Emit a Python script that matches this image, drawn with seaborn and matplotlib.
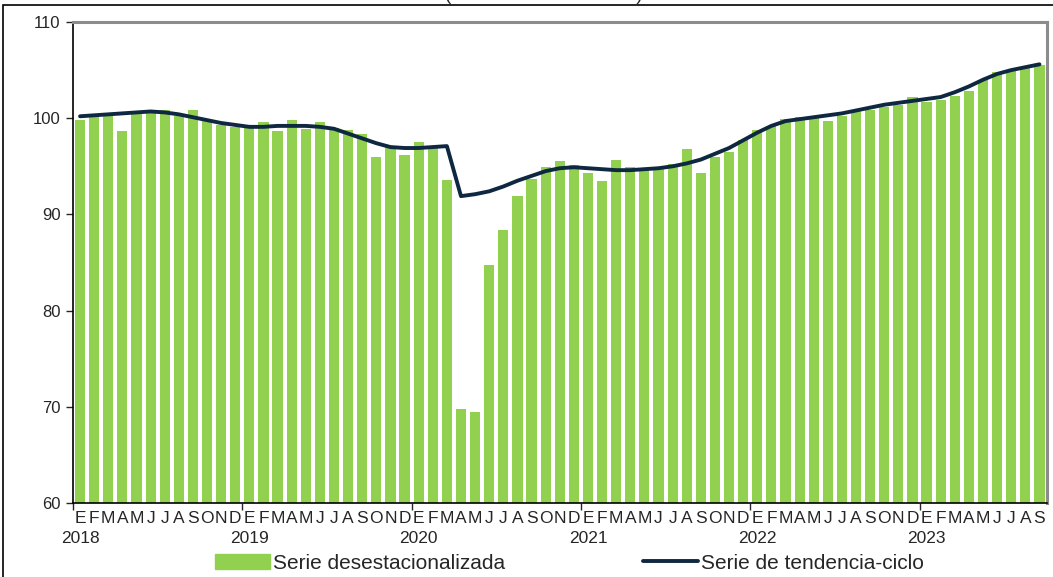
import matplotlib
matplotlib.use("Agg")
import matplotlib.pyplot as plt
import matplotlib.patches as mpatches
from matplotlib.lines import Line2D
import matplotlib.transforms as mtransforms
import numpy as np
import pandas as pd
import seaborn as sns

# datos (índice, 2018=100)
anios = ['2018', '2019', '2020', '2021', '2022', '2023']
letras_mes = ['E', 'F', 'M', 'A', 'M', 'J', 'J', 'A', 'S', 'O', 'N', 'D']

serie_desest = [
    99.8, 100.2, 100.4, 98.7, 100.7, 100.7, 100.9, 100.2, 100.9, 99.7, 99.3, 99.1,   # 2018
    99.1, 99.6, 98.7, 99.8, 98.9, 99.6, 99.0, 98.8, 98.4, 96.0, 97.0, 96.2,          # 2019
    97.5, 97.0, 93.6, 69.8, 69.5, 84.7, 88.4, 91.9, 93.7, 94.9, 95.6, 95.1,          # 2020
    94.3, 93.5, 95.7, 94.9, 94.7, 94.9, 95.2, 96.8, 94.3, 96.0, 96.5, 97.7,          # 2021
    98.8, 99.2, 99.9, 100.1, 100.0, 99.7, 100.2, 100.9, 100.85, 101.2, 101.4, 102.2, # 2022
    101.7, 101.9, 102.3, 102.8, 104.0, 104.8, 105.0, 105.2, 105.5,                   # 2023
]

serie_tendencia = [
    100.2, 100.3, 100.4, 100.5, 100.6, 100.7, 100.6, 100.4, 100.1, 99.8, 99.5, 99.3,
    99.1, 99.1, 99.2, 99.2, 99.2, 99.1, 98.9, 98.4, 97.9, 97.4, 97.0, 96.9,
    96.9, 97.0, 97.1, 91.9, 92.1, 92.4, 92.9, 93.5, 94.0, 94.5, 94.8, 94.9,
    94.8, 94.7, 94.6, 94.6, 94.7, 94.8, 95.0, 95.3, 95.7, 96.3, 96.9, 97.7,
    98.5, 99.2, 99.7, 99.9, 100.1, 100.3, 100.5, 100.8, 101.1, 101.4, 101.6, 101.8,
    102.0, 102.2, 102.7, 103.3, 104.0, 104.6, 105.0, 105.3, 105.6,
]

n = len(serie_desest)
df = pd.DataFrame({'pos': np.arange(n), 'desest': serie_desest, 'tend': serie_tendencia})
df['mes'] = [letras_mes[i % 12] for i in range(n)]

verde = '#92D050'
azul = '#0E2841'

sns.set_style('white')
plt.rcParams['font.family'] = ['Liberation Sans', 'DejaVu Sans']

fig = plt.figure(figsize=(10.53, 5.77), dpi=100)
ax = fig.add_axes([73 / 1053, 1 - 503 / 577, (1046.5 - 73) / 1053, (503 - 22) / 577])

sns.barplot(data=df, x='pos', y='desest', native_scale=True, color=verde,
            saturation=1, width=0.72, edgecolor='none', ax=ax)
sns.lineplot(data=df, x='pos', y='tend', color=azul, linewidth=2.8, ax=ax)

ax.set_xlim(-0.5, n - 0.5)
ax.set_ylim(60, 110)
ax.set_yticks([60, 70, 80, 90, 100, 110])
ax.set_xlabel('')
ax.set_ylabel('')

# ejes
for s in ['left', 'bottom']:
    ax.spines[s].set_color('black')
    ax.spines[s].set_linewidth(1.2)
for s in ['top', 'right']:
    ax.spines[s].set_color('#8c8c8c')
    ax.spines[s].set_linewidth(2.2)

ax.tick_params(axis='y', left=True, length=5, width=1, labelsize=12, pad=4)

# marcas de año (mayores) y letras de mes (menores)
ax.set_xticks(np.arange(-0.5, n, 12))
ax.set_xticklabels([])
ax.tick_params(axis='x', which='major', bottom=True, length=5, width=1)
ax.set_xticks(df['pos'], minor=True)
ax.set_xticklabels(df['mes'], minor=True)
ax.tick_params(axis='x', which='minor', bottom=True, length=0, labelsize=12.5, pad=6)

trans = mtransforms.blended_transform_factory(ax.transData, ax.transAxes)
for k, a in enumerate(anios):
    ax.text(k * 12, -0.074, a, transform=trans, ha='center', va='center', fontsize=12.5)

# leyenda
h1 = mpatches.Patch(color=verde, label='Serie desestacionalizada')
h2 = Line2D([0], [0], color=azul, linewidth=2.8, label='Serie de tendencia-ciclo')
fig.legend(handles=[h1, h2], loc='center', bbox_to_anchor=(0.5408, 0.024), ncol=2,
           frameon=False, fontsize=15, handlelength=2.65, handletextpad=0.15,
           columnspacing=6.6, borderaxespad=0)

# título recortado en el borde superior (como en la imagen original) y marco
fig.text(0.5166, 1 + 0.5 / 577, '(Índice base 2018=100)', ha='center', va='baseline', fontsize=13.5)
fig.patches.append(mpatches.Rectangle((3 / 1053, -0.1), 1.2, 1.1 - 5 / 577, transform=fig.transFigure,
                                      fill=False, edgecolor='black', linewidth=1.2))

fig.savefig('out.png', dpi=100)
